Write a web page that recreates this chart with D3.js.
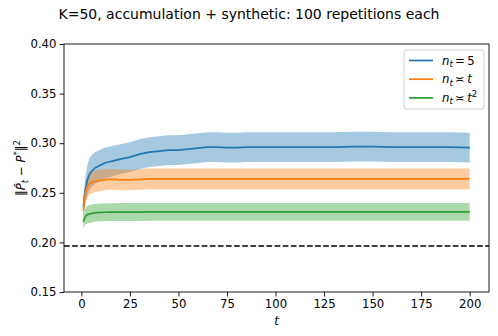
<!DOCTYPE html>
<html>
<head>
<meta charset="utf-8">
<script src="https://cdn.jsdelivr.net/npm/d3@7"></script>
<style>
  body { margin: 0; background: #fff; }
  text { font-family: "DejaVu Sans", sans-serif; }
</style>
</head>
<body>
<script>
// sample points in t
let tPts = [1, 2, 3, 4, 5, 6, 7, 8, 10, 12, 14, 16, 18, 20, 25, 30, 35, 40, 45, 50,
            55, 60, 65, 70, 75, 80, 85, 90, 95, 100, 110, 120, 130, 140, 150, 160, 170, 180, 190, 200];

let blueMean = [0.236, 0.252, 0.262, 0.268, 0.271, 0.273, 0.275, 0.276, 0.278, 0.280, 0.281, 0.282, 0.283, 0.284,
                0.286, 0.289, 0.291, 0.292, 0.293, 0.293, 0.294, 0.295, 0.296, 0.296, 0.2955, 0.2955, 0.296, 0.296,
                0.296, 0.296, 0.296, 0.296, 0.296, 0.2965, 0.2965, 0.296, 0.296, 0.296, 0.296, 0.2955];
let blueSpread = [0.010, 0.013, 0.015, 0.016, 0.016, 0.016, 0.016, 0.016, 0.016, 0.0155, 0.0155, 0.0155, 0.015, 0.015,
                  0.015, 0.015, 0.015, 0.015, 0.015, 0.015, 0.015, 0.015, 0.015, 0.015, 0.015, 0.015, 0.015, 0.015,
                  0.015, 0.015, 0.015, 0.015, 0.015, 0.015, 0.015, 0.015, 0.015, 0.015, 0.015, 0.015];

let orangeMean = [0.232, 0.249, 0.256, 0.259, 0.260, 0.261, 0.2615, 0.262, 0.2625, 0.263, 0.2635, 0.2635, 0.2635, 0.263,
                  0.263, 0.2635, 0.264, 0.264, 0.264, 0.264, 0.264, 0.264, 0.264, 0.264, 0.264, 0.264, 0.264, 0.264,
                  0.264, 0.264, 0.264, 0.264, 0.264, 0.264, 0.264, 0.264, 0.264, 0.264, 0.264, 0.264];
let orangeSpread = [0.008, 0.010, 0.011, 0.011, 0.011, 0.011, 0.011, 0.011, 0.011, 0.0105, 0.0105, 0.0105, 0.0105, 0.0105,
                    0.0105, 0.0105, 0.0105, 0.0105, 0.0105, 0.0105, 0.0105, 0.0105, 0.0105, 0.0105, 0.0105, 0.0105, 0.0105, 0.0105,
                    0.0105, 0.0105, 0.0105, 0.0105, 0.0105, 0.0105, 0.0105, 0.0105, 0.0105, 0.0105, 0.0105, 0.0105];

let greenMean = [0.2207, 0.226, 0.228, 0.2285, 0.229, 0.2295, 0.2298, 0.230, 0.2302, 0.2304, 0.2305, 0.2305, 0.2305, 0.2306,
                 0.2306, 0.2306, 0.2307, 0.2307, 0.2307, 0.2307, 0.2307, 0.2307, 0.2308, 0.2308, 0.2308, 0.2308, 0.2308, 0.2308,
                 0.2308, 0.2308, 0.2308, 0.2308, 0.2308, 0.2308, 0.2308, 0.2308, 0.2308, 0.2308, 0.2308, 0.2308];
let greenSpread = [0.0065, 0.008, 0.009, 0.009, 0.009, 0.009, 0.009, 0.009, 0.009, 0.009, 0.009, 0.009, 0.009, 0.009,
                   0.009, 0.009, 0.009, 0.009, 0.009, 0.009, 0.009, 0.009, 0.009, 0.009, 0.009, 0.009, 0.009, 0.009,
                   0.009, 0.009, 0.009, 0.009, 0.009, 0.009, 0.009, 0.009, 0.009, 0.009, 0.009, 0.009];

let refLevel = 0.1963;
let xTicks = [0, 25, 50, 75, 100, 125, 150, 175, 200];
let yTicks = [0.15, 0.20, 0.25, 0.30, 0.35, 0.40];
let colors = ["#1f77b4", "#ff7f0e", "#2ca02c"];

let W = 498, H = 336;
let margin = { left: 64, right: 9, top: 44, bottom: 44 };
let fs = 11.7;

let svg = d3.select("body").append("svg")
    .attr("width", W).attr("height", H);
svg.append("rect").attr("width", W).attr("height", H).attr("fill", "#fff");

let x = d3.scaleLinear().domain([-8.95, 209.95]).range([margin.left, W - margin.right]);
let y = d3.scaleLinear().domain([0.15, 0.40]).range([H - margin.bottom, margin.top]);

let series = [
    { mean: blueMean, spread: blueSpread },
    { mean: orangeMean, spread: orangeSpread },
    { mean: greenMean, spread: greenSpread }
];

let plot = svg.append("g");

// bands
series.forEach(function (s, k) {
    let pts = tPts.map(function (t, i) { return { t: t, m: s.mean[i], s: s.spread[i] }; });
    let area = d3.area()
        .x(function (d) { return x(d.t); })
        .y0(function (d) { return y(d.m - d.s); })
        .y1(function (d) { return y(d.m + d.s); });
    plot.append("path").datum(pts)
        .attr("d", area)
        .attr("fill", colors[k])
        .attr("fill-opacity", 0.4);
});

// mean lines
series.forEach(function (s, k) {
    let pts = tPts.map(function (t, i) { return { t: t, m: s.mean[i] }; });
    let line = d3.line()
        .x(function (d) { return x(d.t); })
        .y(function (d) { return y(d.m); });
    plot.append("path").datum(pts)
        .attr("d", line)
        .attr("fill", "none")
        .attr("stroke", colors[k])
        .attr("stroke-width", 1.7)
        .attr("stroke-linejoin", "round");
});

// reference dashed line
plot.append("line")
    .attr("x1", x.range()[0]).attr("x2", x.range()[1])
    .attr("y1", y(refLevel)).attr("y2", y(refLevel))
    .attr("stroke", "#000")
    .attr("stroke-width", 1.6)
    .attr("stroke-dasharray", "5.7,2.4");

// axes
let xAxis = d3.axisBottom(x).tickValues(xTicks).tickSizeOuter(0).tickSize(4.5).tickPadding(3);
let yAxis = d3.axisLeft(y).tickValues(yTicks).tickFormat(d3.format(".2f")).tickSizeOuter(0).tickSize(4.5).tickPadding(3);

let gx = svg.append("g").attr("transform", "translate(0," + (H - margin.bottom) + ")").call(xAxis);
let gy = svg.append("g").attr("transform", "translate(" + margin.left + ",0)").call(yAxis);
[gx, gy].forEach(function (g) {
    g.select(".domain").remove();
    g.selectAll("line").attr("stroke", "#000").attr("stroke-width", 0.9);
    g.selectAll("text").attr("font-size", fs).attr("fill", "#000")
        .style("font-family", "DejaVu Sans");
});

// frame
svg.append("rect")
    .attr("x", margin.left).attr("y", margin.top)
    .attr("width", W - margin.left - margin.right)
    .attr("height", H - margin.top - margin.bottom)
    .attr("fill", "none").attr("stroke", "#000").attr("stroke-width", 0.9);

// title
svg.append("text")
    .attr("x", W / 2).attr("y", 19)
    .attr("text-anchor", "middle")
    .attr("font-size", 14)
    .text("K=50, accumulation + synthetic: 100 repetitions each");

// x label
svg.append("text")
    .attr("x", (margin.left + W - margin.right) / 2).attr("y", 325)
    .attr("text-anchor", "middle")
    .attr("font-size", fs)
    .attr("font-style", "italic")
    .text("t");

// y label
let yl = svg.append("text")
    .attr("transform", "translate(25," + ((margin.top + H - margin.bottom) / 2) + ") rotate(-90)")
    .attr("text-anchor", "middle")
    .attr("font-size", fs);
yl.append("tspan").text("\u2016");
yl.append("tspan").attr("font-style", "italic").text("P\u0302");
yl.append("tspan").attr("font-style", "italic").attr("font-size", 8.5).attr("dy", 3).text("t");
yl.append("tspan").attr("dy", -3).text(" \u2212 ");
yl.append("tspan").attr("font-style", "italic").text("P");
yl.append("tspan").attr("font-size", 8.5).attr("dy", -5).text("*");
yl.append("tspan").attr("dy", 5).text("\u2016");
yl.append("tspan").attr("font-size", 8.5).attr("dy", -5).text("2");

// legend
let lg = svg.append("g").attr("transform", "translate(404,50)");
lg.append("rect")
    .attr("width", 80).attr("height", 59)
    .attr("rx", 2.5)
    .attr("fill", "#fff").attr("fill-opacity", 0.8)
    .attr("stroke", "#ccc").attr("stroke-width", 0.9);
let legendRows = [
    { rel: "\u2009=\u2009", rhs: "5", sup: null },
    { rel: "\u2009\u224D\u2009", rhs: "t", sup: null },
    { rel: "\u2009\u224D\u2009", rhs: "t", sup: "2" }
];
legendRows.forEach(function (r, i) {
    let ry = 10.5 + i * 18.7;
    lg.append("line")
        .attr("x1", 5).attr("x2", 29)
        .attr("y1", ry).attr("y2", ry)
        .attr("stroke", colors[i]).attr("stroke-width", 1.7);
    let tx = lg.append("text").attr("x", 38).attr("y", ry + 4).attr("font-size", fs);
    tx.append("tspan").attr("font-style", "italic").text("n");
    tx.append("tspan").attr("font-style", "italic").attr("font-size", 8.5).attr("dy", 2.5).text("t");
    tx.append("tspan").attr("dy", -2.5).text(r.rel);
    tx.append("tspan").attr("font-style", r.rhs === "5" ? "normal" : "italic").text(r.rhs);
    if (r.sup) tx.append("tspan").attr("font-size", 8.5).attr("dy", -5).text(r.sup);
});
</script>
</body>
</html>
